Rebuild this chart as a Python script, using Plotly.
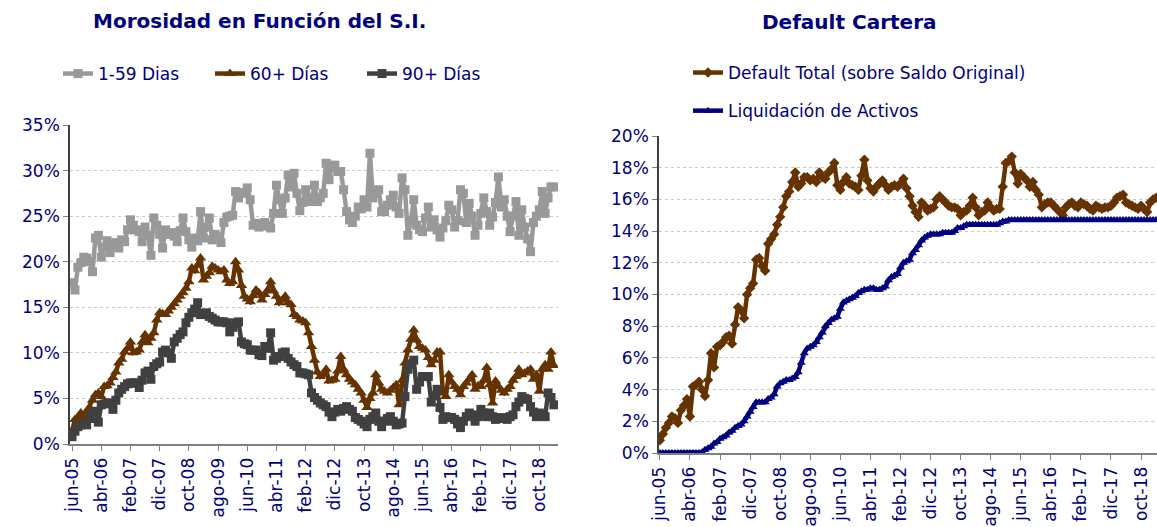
import plotly.graph_objects as go

MESES = ["ene", "feb", "mar", "abr", "may", "jun", "jul", "ago", "sep", "oct", "nov", "dic"]
N_MONTHS = 166  # jun-05 .. mar-19
meses = [f"{MESES[(5 + i) % 12]}-{(5 + (5 + i) // 12):02d}" for i in range(N_MONTHS)]
tick_labels = meses[::10]

mora_1_59 = [
    17.7, 16.9, 19.4, 19.9, 20.5, 20.4, 20.0, 18.9, 22.6, 22.9,
    20.5, 21.6, 22.3, 21.0, 21.8, 22.1, 21.5, 22.4, 22.2, 23.5,
    24.6, 24.0, 23.5, 23.3, 22.2, 23.8, 22.9, 20.7, 24.8, 24.0,
    23.0, 21.5, 23.5, 23.0, 23.2, 22.8, 22.2, 23.4, 24.8, 23.3,
    22.4, 21.6, 22.6, 22.3, 25.5, 22.6, 23.8, 24.8, 22.4, 23.0,
    22.7, 22.1, 24.3, 24.9, 25.0, 25.1, 27.7, 27.0, 27.5, 27.6,
    28.1, 26.8, 24.0, 24.2, 23.8, 24.0, 24.3, 23.9, 23.7, 25.3,
    28.4, 26.8, 25.3, 27.0, 29.5, 28.2, 29.7, 27.5, 25.6, 26.5,
    27.9, 27.0, 26.6, 28.4, 26.6, 27.0, 27.5, 30.8, 29.0, 30.5,
    30.6, 29.9, 29.9, 27.9, 25.5, 24.6, 24.3, 25.0, 26.0, 25.8,
    26.8, 26.0, 31.9, 27.0, 27.5, 27.9, 25.5, 25.5, 26.2, 26.8,
    27.3, 26.0, 25.3, 29.2, 27.9, 22.9, 24.5, 26.8, 24.0, 23.5,
    23.3, 24.8, 26.0, 23.8, 24.6, 23.5, 22.7, 23.7, 24.5, 26.2,
    25.7, 23.8, 24.5, 27.9, 27.5, 24.3, 26.4, 25.0, 22.9, 24.0,
    25.3, 27.0, 25.5, 24.0, 24.9, 26.5, 29.3, 26.0, 26.8, 25.0,
    23.3, 25.0, 26.6, 22.9, 25.7, 23.8, 22.5, 21.1, 24.3, 25.0,
    25.7, 27.7, 25.3, 27.0, 28.2, 28.2,
]

mora_60 = [
    1.4, 2.7, 2.9, 3.4, 3.0, 3.6, 4.0, 4.8, 5.4, 5.6,
    5.2, 6.3, 6.4, 6.7, 7.3, 7.9, 8.9, 9.3, 10.1, 10.5,
    11.2, 10.0, 10.1, 10.3, 11.2, 12.0, 11.1, 11.6, 12.2, 13.6,
    14.4, 14.3, 14.2, 14.6, 15.0, 15.4, 15.8, 16.2, 16.6, 17.1,
    17.8, 19.3, 19.0, 19.6, 20.4, 18.0, 18.4, 18.8, 19.5, 19.3,
    19.1, 18.9, 19.1, 18.0, 17.6, 17.8, 20.0, 19.1, 17.4, 16.2,
    15.9, 15.6, 16.3, 16.9, 16.6, 15.8, 16.4, 16.9, 17.8, 16.8,
    16.2, 15.5, 15.8, 16.2, 15.5, 15.3, 14.2, 14.0, 13.6, 13.5,
    13.3, 12.2, 10.7, 9.2, 7.9, 7.4, 7.6, 8.2, 6.9, 7.0,
    7.1, 8.0, 9.6, 8.2, 7.6, 7.1, 6.8, 6.5, 6.0, 5.6,
    4.8, 4.0, 5.0, 5.6, 7.6, 6.7, 6.0, 5.8, 5.6, 5.9,
    6.2, 6.5, 4.3, 7.0, 8.9, 10.3, 11.5, 12.5, 11.4, 10.7,
    10.5, 10.3, 9.5, 8.7, 9.2, 10.1, 10.1, 5.6, 5.2, 7.6,
    6.8, 6.3, 6.0, 5.4, 6.3, 6.7, 7.1, 7.6, 6.0, 6.4,
    6.3, 7.0, 8.4, 6.5, 4.5, 6.9, 6.3, 5.9, 5.6, 6.0,
    6.3, 7.0, 7.4, 8.2, 7.6, 7.8, 8.0, 8.2, 7.1, 7.6,
    5.8, 8.2, 8.7, 8.2, 10.1, 8.6,
]

mora_90 = [
    0.8, 1.4, 1.9, 2.1, 2.3, 2.1, 2.8, 3.4, 3.6, 2.4,
    4.3, 4.4, 4.5, 4.5, 3.8, 4.8, 5.6, 6.0, 6.3, 6.6,
    6.7, 6.7, 6.7, 6.2, 7.0, 7.8, 8.0, 7.1, 8.5, 8.8,
    9.0, 10.1, 10.3, 10.0, 9.4, 11.2, 11.6, 12.0, 12.3, 13.3,
    13.9, 14.4, 14.8, 15.5, 14.2, 14.3, 14.4, 14.0, 13.8, 13.6,
    13.4, 13.4, 13.4, 13.3, 12.3, 12.8, 13.3, 13.4, 11.2, 11.0,
    10.9, 10.3, 10.3, 10.3, 9.8, 9.7, 10.7, 10.5, 12.2, 9.2,
    9.4, 9.6, 10.0, 10.1, 9.4, 9.0, 8.7, 8.5, 7.8, 7.8,
    7.7, 7.6, 5.6, 5.1, 4.8, 4.5, 4.3, 4.1, 3.5, 3.0,
    3.5, 3.8, 3.6, 3.9, 4.1, 3.8, 3.6, 2.9, 2.7, 2.5,
    2.2, 1.9, 2.7, 3.0, 3.4, 2.5, 1.9, 2.5, 2.8, 3.0,
    2.5, 2.1, 2.2, 2.3, 5.2, 8.2, 8.8, 9.2, 6.0, 6.8,
    7.4, 7.4, 7.4, 4.6, 5.3, 6.0, 4.0, 2.7, 3.0, 2.9,
    2.9, 2.7, 2.2, 1.8, 2.5, 3.0, 3.4, 3.2, 2.5, 3.0,
    3.8, 3.4, 3.0, 3.4, 3.0, 2.7, 2.8, 2.9, 2.8, 2.7,
    3.0, 3.2, 4.1, 4.6, 5.2, 5.0, 4.9, 4.1, 3.5, 3.0,
    3.4, 3.2, 3.0, 5.6, 5.1, 4.3,
]

default_total = [
    0.8, 1.2, 1.6, 1.9, 2.3, 2.2, 1.9, 2.7, 3.0, 3.4,
    2.3, 4.2, 4.3, 4.5, 4.0, 3.6, 4.6, 6.3, 5.4, 6.7,
    6.8, 7.0, 7.3, 7.4, 6.9, 8.1, 9.2, 9.0, 8.5, 10.0,
    10.4, 10.7, 12.2, 12.3, 11.8, 11.5, 13.2, 13.5, 13.8, 14.4,
    14.9, 15.5, 16.2, 16.5, 17.1, 17.7, 16.8, 17.0, 17.4, 17.4,
    17.2, 17.3, 17.1, 17.7, 17.4, 17.3, 17.7, 17.9, 18.3, 16.9,
    16.6, 17.1, 17.4, 17.0, 16.9, 16.8, 16.6, 17.5, 18.5, 17.2,
    16.7, 16.5, 16.8, 17.0, 17.2, 16.9, 16.6, 16.8, 16.9, 16.8,
    17.0, 17.3, 16.7, 16.2, 15.6, 15.2, 14.9, 15.8, 15.6, 15.3,
    15.4, 15.5, 16.0, 16.2, 16.0, 15.8, 15.6, 15.5, 15.5, 15.4,
    15.0, 15.2, 15.3, 15.6, 16.1, 15.5, 15.0, 15.2, 15.3, 15.8,
    15.5, 15.3, 15.4, 15.4, 16.8, 18.3, 18.4, 18.7, 17.7, 17.0,
    17.6, 17.4, 17.2, 16.8, 17.1, 16.6, 16.3, 15.5, 15.7, 15.8,
    15.8, 15.6, 15.4, 15.2, 15.0, 15.5, 15.7, 15.8, 15.6, 15.5,
    15.8, 15.7, 15.6, 15.4, 15.3, 15.6, 15.5, 15.4, 15.5, 15.5,
    15.6, 15.8, 16.1, 16.2, 16.3, 15.8, 15.7, 15.6, 15.5, 15.4,
    15.6, 15.4, 15.2, 15.8, 16.0, 16.1,
]

liquidacion = [
    0.0, 0.0, 0.0, 0.0, 0.0, 0.0, 0.0, 0.0, 0.0, 0.0,
    0.0, 0.0, 0.0, 0.0, 0.05, 0.2, 0.3, 0.4, 0.6, 0.7,
    0.9, 1.0, 1.1, 1.3, 1.4, 1.6, 1.7, 1.8, 2.0, 2.3,
    2.6, 2.9, 3.2, 3.2, 3.2, 3.2, 3.4, 3.5, 3.7, 4.2,
    4.4, 4.5, 4.6, 4.6, 4.7, 4.8, 5.1, 5.7, 6.3, 6.6,
    6.7, 6.8, 7.0, 7.3, 7.6, 8.0, 8.2, 8.4, 8.5, 8.6,
    9.1, 9.5, 9.6, 9.7, 9.8, 9.9, 10.1, 10.2, 10.3, 10.3,
    10.4, 10.4, 10.3, 10.3, 10.4, 10.5, 10.9, 11.1, 11.2, 11.3,
    11.7, 12.0, 12.1, 12.2, 12.6, 12.8, 13.1, 13.4, 13.6, 13.7,
    13.8, 13.8, 13.8, 13.8, 13.9, 13.9, 13.9, 13.9, 14.0, 14.2,
    14.2, 14.3, 14.4, 14.4, 14.4, 14.4, 14.4, 14.4, 14.4, 14.4,
    14.4, 14.4, 14.4, 14.5, 14.6, 14.6, 14.7, 14.7, 14.7, 14.7,
    14.7, 14.7, 14.7, 14.7, 14.7, 14.7, 14.7, 14.7, 14.7, 14.7,
    14.7, 14.7, 14.7, 14.7, 14.7, 14.7, 14.7, 14.7, 14.7, 14.7,
    14.7, 14.7, 14.7, 14.7, 14.7, 14.7, 14.7, 14.7, 14.7, 14.7,
    14.7, 14.7, 14.7, 14.7, 14.7, 14.7, 14.7, 14.7, 14.7, 14.7,
    14.7, 14.7, 14.7, 14.7, 14.7, 14.7,
]

W, H = 1157, 527
NAVY = "#000080"
FONT = "DejaVu Sans"

def px_x(a, b):
    return [a / W, b / W]

def px_y(top, bottom):
    return [1 - bottom / H, 1 - top / H]

fig = go.Figure()

fig.add_trace(go.Scatter(
    x=meses, y=mora_1_59, name="1-59 Dias", mode="lines+markers",
    line=dict(color="#999999", width=4.5), marker=dict(symbol="square", size=9, color="#999999"),
    xaxis="x", yaxis="y", legend="legend"))
fig.add_trace(go.Scatter(
    x=meses, y=mora_60, name="60+ Días", mode="lines+markers",
    line=dict(color="#663300", width=4.5), marker=dict(symbol="triangle-up", size=10, color="#663300"),
    xaxis="x", yaxis="y", legend="legend"))
fig.add_trace(go.Scatter(
    x=meses, y=mora_90, name="90+ Días", mode="lines+markers",
    line=dict(color="#404040", width=4.5), marker=dict(symbol="square", size=9, color="#404040"),
    xaxis="x", yaxis="y", legend="legend"))

fig.add_trace(go.Scatter(
    x=meses, y=default_total, name="Default Total (sobre Saldo Original)", mode="lines+markers",
    line=dict(color="#663300", width=4.5), marker=dict(symbol="diamond", size=8, color="#663300"),
    xaxis="x2", yaxis="y2", legend="legend2", legendgroup="a"))
fig.add_trace(go.Scatter(
    x=meses, y=liquidacion, name="Liquidación de Activos", mode="lines+markers",
    line=dict(color=NAVY, width=4.5), marker=dict(symbol="triangle-up", size=8, color=NAVY),
    xaxis="x2", yaxis="y2", legend="legend2", legendgroup="b"))

tickfont = dict(family=FONT, size=17, color=NAVY)
common_x = dict(
    type="category", tickmode="array", tickvals=tick_labels, ticktext=tick_labels,
    tickangle=-90, tickfont=tickfont, showgrid=False, showline=True,
    linecolor="#808080", linewidth=2, ticks="outside", ticklen=5, tickcolor="#808080",
    zeroline=False, automargin=False,
)
common_y = dict(
    tickfont=tickfont, ticksuffix="%", showgrid=True, gridcolor="#c8c8c8", griddash="dot",
    gridwidth=1, showline=True, linecolor="#404040", linewidth=1.5, ticks="outside",
    ticklen=5, tickcolor="#808080", zeroline=False, automargin=False,
)

fig.update_layout(
    width=W, height=H,
    margin=dict(l=0, r=0, t=0, b=0, autoexpand=False),
    paper_bgcolor="white", plot_bgcolor="white",
    font=dict(family=FONT, color=NAVY),
    xaxis=dict(common_x, domain=px_x(70, 558), range=[-0.7, 166.4], anchor="y"),
    yaxis=dict(common_y, domain=px_y(125, 444), range=[0, 35], dtick=5, anchor="x"),
    xaxis2=dict(common_x, domain=px_x(659, 1157), range=[-0.3, 165.3], anchor="y2"),
    yaxis2=dict(common_y, domain=px_y(136, 453), range=[0, 20], dtick=2, anchor="x2"),
    legend=dict(
        orientation="h", x=58 / W, y=1 - 74 / H, xanchor="left", yanchor="middle",
        font=dict(family=FONT, size=17, color=NAVY), entrywidth=107, entrywidthmode="pixels",
        bgcolor="rgba(0,0,0,0)", itemclick=False, itemdoubleclick=False,
    ),
    legend2=dict(
        orientation="v", x=688 / W, y=1 - 55 / H, xanchor="left", yanchor="top",
        font=dict(family=FONT, size=17, color=NAVY), tracegroupgap=13,
        bgcolor="rgba(0,0,0,0)", itemclick=False, itemdoubleclick=False,
    ),
    annotations=[
        dict(text="<b>Morosidad en Función del S.I.</b>", x=259 / W, y=1 - 21 / H,
             xref="paper", yref="paper", showarrow=False, xanchor="center", yanchor="middle",
             font=dict(family=FONT, size=20, color=NAVY)),
        dict(text="<b>Default Cartera</b>", x=849 / W, y=1 - 22 / H,
             xref="paper", yref="paper", showarrow=False, xanchor="center", yanchor="middle",
             font=dict(family=FONT, size=20, color=NAVY)),
    ],
    showlegend=True,
)

fig.write_html(
    "out.html",
    config={"displayModeBar": False},
    post_script="document.body.style.margin='0';document.body.style.overflow='hidden';",
)
